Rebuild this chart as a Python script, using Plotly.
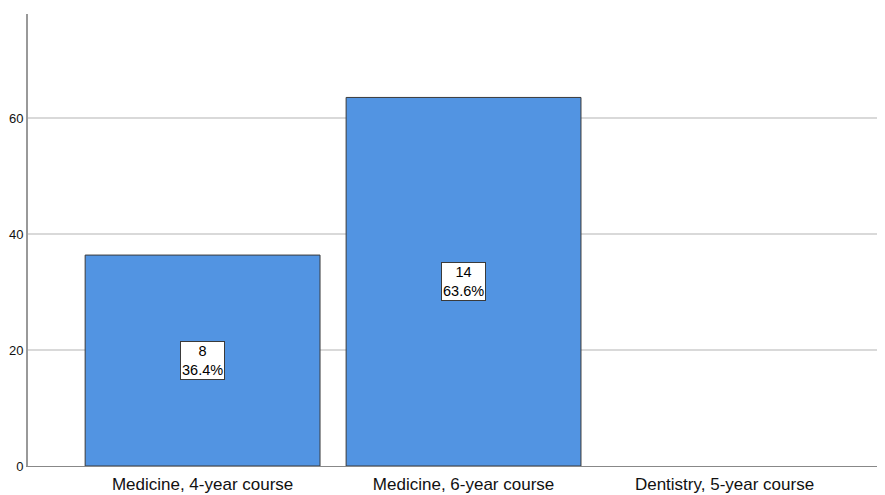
import plotly.graph_objects as go

categories = ["Medicine, 4-year course", "Medicine, 6-year course", "Dentistry, 5-year course"]
percents = [36.4, 63.6, 0.0]
counts = [8, 14, 0]
y_ticks = [0, 20, 40, 60]

fig = go.Figure()
fig.add_trace(go.Bar(
    x=categories, y=[p if p > 0 else None for p in percents], width=0.9,
    marker=dict(color="#5294E2", line=dict(color="#3a3a3a", width=1)),
    hoverinfo="skip",
))

for c, p, n in zip(categories, percents, counts):
    if n > 0:
        fig.add_annotation(
            x=c, y=p / 2, text=f"{n}<br>{p:.1f}%", showarrow=False,
            bgcolor="white", bordercolor="#3a3a3a", borderwidth=1, borderpad=1,
            font=dict(family="Liberation Sans, Arial", size=14.5, color="#000"),
        )

# page body has an 8px margin; size the figure so the plot area lands where the reference has it
fig.update_layout(
    width=877, height=487,
    margin=dict(l=20, r=0, t=6, b=29, autoexpand=False),
    plot_bgcolor="white", paper_bgcolor="white",
    showlegend=False,
    bargap=0.1,
    xaxis=dict(
        range=[-0.669, 2.615], showgrid=False, showline=True, linecolor="#888888", linewidth=1,
        ticks="", automargin=False, ticklabelstandoff=3,
        tickfont=dict(family="Liberation Sans, Arial", size=17, color="#111"),
    ),
    yaxis=dict(
        range=[0, 78], tickvals=y_ticks, showgrid=True, gridcolor="#d9d9d9", gridwidth=1.5,
        zeroline=False, showline=True, linecolor="#999999", linewidth=2, automargin=False,
        ticks="", tickfont=dict(family="Liberation Sans, Arial", size=13, color="#111"),
    ),
)

fig.write_html("out.html")
